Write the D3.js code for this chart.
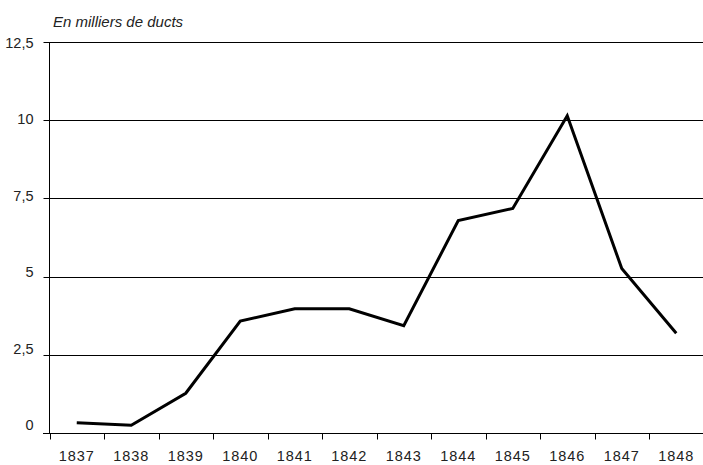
<!DOCTYPE html>
<html><head><meta charset="utf-8">
<script src="https://cdn.jsdelivr.net/npm/d3@7"></script>
<style>body{margin:0;background:#fff}svg{display:block}</style>
</head><body>
<script>
const years = ["1837","1838","1839","1840","1841","1842","1843","1844","1845","1846","1847","1848"];
const values = [0.33,0.25,1.27,3.58,3.97,3.97,3.43,6.79,7.18,10.14,5.26,3.19];
const yTicks = [0,2.5,5,7.5,10,12.5];
const yTickLabels = ["0","2,5","5","7,5","10","12,5"];
const unitLabel = "En milliers de ducts";

const W=703,H=465;
const svg=d3.select("body").append("svg").attr("width",W).attr("height",H);
const x=d3.scaleBand().domain(years).range([49.5,703.5]);
const y=d3.scaleLinear().domain([0,12.5]).range([433,42]);
// tick labels in the original sit on a slightly tighter spacing than the gridlines
const yLab=d3.scaleLinear().domain([0,12.5]).range([430,48]);
const font="'Liberation Sans', Arial, sans-serif";

// gridlines
svg.append("g").selectAll("line").data(yTicks.filter(d=>d>0)).join("line")
 .attr("x1",49.5).attr("x2",W).attr("y1",d=>Math.round(y(d))+0.5).attr("y2",d=>Math.round(y(d))+0.5)
 .attr("stroke","#000").attr("stroke-width",1);

// y axis
const ya=svg.append("g").attr("transform","translate(49.5,0)")
 .call(d3.axisLeft(y).tickValues(yTicks).tickSize(6).tickPadding(0).tickFormat((d,i)=>yTickLabels[i]));
ya.select(".domain").attr("d","M0,"+y(12.5)+"V"+(y(0)+0.5)).attr("stroke","#000");
ya.selectAll(".tick line").attr("stroke","#000");
ya.selectAll(".tick").attr("transform",d=>`translate(0,${Math.round(y(d))+0.5})`);
ya.selectAll(".tick text").attr("x",-16).attr("dy",null)
 .attr("y",d=>yLab(d)-(Math.round(y(d))+0.5))
 .attr("font-family",font).attr("font-size",14.5).attr("fill","#222");

// x axis
const xa=svg.append("g").attr("transform",`translate(0,${Math.round(y(0))+0.5})`)
 .call(d3.axisBottom(x).tickSize(0).tickPadding(0));
xa.select(".domain").attr("d",`M43,0H${W}`).attr("stroke","#000");
xa.selectAll(".tick text").attr("dy",null).attr("y",27.5)
 .attr("font-family",font).attr("font-size",14.5).attr("fill","#222").attr("letter-spacing","1px");
// band boundary ticks
xa.append("g").selectAll("line").data(years).join("line")
 .attr("x1",d=>Math.round(x(d))+0.5).attr("x2",d=>Math.round(x(d))+0.5).attr("y1",0).attr("y2",6)
 .attr("stroke","#000");

// line
const line=d3.line().x((d,i)=>x(years[i])+x.bandwidth()/2).y(d=>y(d));
svg.append("path").datum(values).attr("d",line).attr("fill","none")
 .attr("stroke","#000").attr("stroke-width",3).attr("stroke-linejoin","miter");

// unit label
svg.append("text").attr("x",53).attr("y",27).text(unitLabel)
 .attr("font-family",font).attr("font-size",15).attr("font-style","italic").attr("fill","#222");
</script>
</body></html>
